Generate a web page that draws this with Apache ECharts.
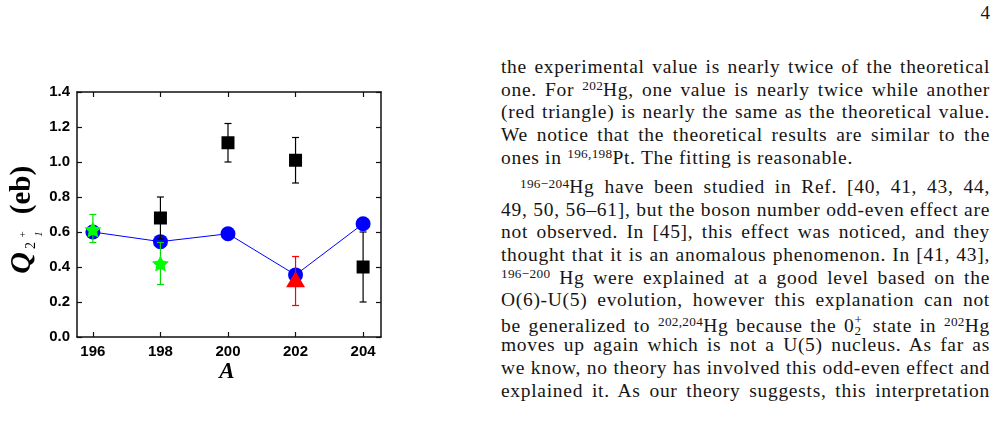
<!DOCTYPE html>
<html>
<head>
<meta charset="utf-8">
<script src="https://cdn.jsdelivr.net/npm/echarts@6/dist/echarts.min.js"></script>
<style>
  html, body { margin: 0; padding: 0; background: #fff; }
  #page { position: relative; width: 998px; height: 422px; overflow: hidden; }
  #chart { position: absolute; left: 0; top: 0; width: 480px; height: 422px; }
  .ln { position: absolute; left: 501px; width: 489px; font-family: "Liberation Serif", serif; font-size: 19.5px;
        letter-spacing: 0.7px; line-height: 22.6px; color: #151515; text-align: justify; text-align-last: justify; white-space: normal; }
  .ln.last { text-align-last: left; }
  .ln.ind { text-indent: 19px; }
  .sp { position: relative; top: -0.42em; font-size: 0.68em; line-height: 0; letter-spacing: 0.3px; }
  .stack { display: inline-block; position: relative; width: 0.55em; height: 1em; }
  .stack i { position: absolute; left: 0; font-style: normal; font-size: 13px; line-height: 1; }
  .stack .u { top: 1px; }
  .stack .d { top: 12px; }
  #pnum { position: absolute; right: 8px; top: 2px; font-family: "Liberation Serif", serif; font-size: 19px; line-height: 22px; color: #151515; }
</style>
</head>
<body>
<div id="page">
  <div id="chart"></div>
  <div id="pnum">4</div>
  <div id="text"></div>
</div>
<script>
// ---- data ----
const xTicks = [196, 198, 200, 202, 204];
const theoryA = [196, 198, 200, 202, 204];
const theoryQ = [0.60, 0.545, 0.59, 0.355, 0.647];
const expA  = [198, 200, 202, 204];
const expQ  = [0.68, 1.11, 1.01, 0.40];
const expLo = [0.56, 1.00, 0.88, 0.20];
const expHi = [0.80, 1.22, 1.14, 0.60];
const greenA  = [196, 198];
const greenQ  = [0.615, 0.42];
const greenLo = [0.54, 0.30];
const greenHi = [0.70, 0.54];
const redA  = [202];
const redQ  = [0.33];
const redLo = [0.18];
const redHi = [0.46];

// ---- text lines on the right ----
const textLines = [
  ['the experimental value is nearly twice of the theoretical', ''],
  ['one. For <span class="sp">202</span>Hg, one value is nearly twice while another', ''],
  ['(red triangle) is nearly the same as the theoretical value.', ''],
  ['We notice that the theoretical results are similar to the', ''],
  ['ones in <span class="sp">196,198</span>Pt. The fitting is reasonable.', 'last'],
  ['<span class="sp">196\u2212204</span>Hg have been studied in Ref. [40, 41, 43, 44,', 'ind'],
  ['49, 50, 56\u201361], but the boson number odd-even effect are', ''],
  ['not observed. In [45], this effect was noticed, and they', ''],
  ['thought that it is an anomalous phenomenon. In [41, 43],', ''],
  ['<span class="sp">196\u2212200</span> Hg were explained at a good level based on the', ''],
  ['O(6)-U(5) evolution, however this explanation can not', ''],
  ['be generalized to <span class="sp">202,204</span>Hg because the 0<span class="stack"><i class="u">+</i><i class="d">2</i></span> state in <span class="sp">202</span>Hg', ''],
  ['moves up again which is not a U(5) nucleus. As far as', ''],
  ['we know, no theory has involved this odd-even effect and', ''],
  ['explained it. As our theory suggests, this interpretation', '']
];
const baselines = [74, 96.6, 119.2, 141.8, 164.4, 194, 216.6, 239.2, 261.8, 284.4, 307, 329.6, 352.2, 374.8, 397.4];
const textBox = document.getElementById('text');
textLines.forEach((l, i) => {
  const d = document.createElement('div');
  d.className = 'ln ' + l[1];
  d.style.top = (baselines[i] - 17.9) + 'px';
  d.innerHTML = l[0];
  textBox.appendChild(d);
  let ls = 0.7;
  while (d.getBoundingClientRect().height > 30 && ls > -1) {
    ls -= 0.05;
    d.style.letterSpacing = ls + 'px';
  }
});

// ---- chart ----
const chart = echarts.init(document.getElementById('chart'), null, { renderer: 'canvas' });
const axisColor = '#111';
const labelFont = { fontFamily: 'Liberation Sans, Arial, sans-serif', fontWeight: 'bold', fontSize: 15, color: '#000' };
const starPath = 'path://M0,-10 L2.94,-4.05 L9.51,-3.09 L4.76,1.55 L5.88,8.09 L0,5 L-5.88,8.09 L-4.76,1.55 L-9.51,-3.09 L-2.94,-4.05 Z';

function errSeries(xs, lo, hi, color, z) {
  return {
    type: 'custom',
    z: z,
    data: xs.map((x, i) => [x, lo[i], hi[i]]),
    encode: { x: 0, y: [1, 2] },
    renderItem: function (params, api) {
      const p1 = api.coord([api.value(0), api.value(1)]);
      const p2 = api.coord([api.value(0), api.value(2)]);
      const hw = 3.5;
      const st = { stroke: color, lineWidth: 1.2 };
      return {
        type: 'group',
        children: [
          { type: 'line', shape: { x1: p1[0], y1: p1[1], x2: p2[0], y2: p2[1] }, style: st },
          { type: 'line', shape: { x1: p1[0] - hw, y1: p1[1], x2: p1[0] + hw, y2: p1[1] }, style: st },
          { type: 'line', shape: { x1: p2[0] - hw, y1: p2[1], x2: p2[0] + hw, y2: p2[1] }, style: st }
        ]
      };
    },
    silent: true
  };
}

const xBase = {
  type: 'value', min: 195.53, max: 204.53,
  axisLine: { show: true, onZero: false, lineStyle: { color: axisColor, width: 1.5 } },
  axisTick: { show: true, inside: true, length: 5, customValues: xTicks, lineStyle: { color: axisColor, width: 1.2 } },
  minorTick: { show: false },
  splitLine: { show: false }
};
const yBase = {
  type: 'value', min: 0, max: 1.4, interval: 0.2,
  axisLine: { show: true, onZero: false, lineStyle: { color: axisColor, width: 1.5 } },
  axisTick: { show: true, inside: true, length: 5, lineStyle: { color: axisColor, width: 1.2 } },
  splitLine: { show: false }
};

// rotated title pieces: sy = screen y of glyph centre, sx = screen x of text middle
function t(txt, sy, sx, font) {
  return { type: 'text', x: -sy, y: sx,
    style: { text: txt, font: font, fill: '#000', align: 'center', textAlign: 'center', verticalAlign: 'middle', textVerticalAlign: 'middle' } };
}

chart.setOption({
  animation: false,
  backgroundColor: '#fff',
  grid: { left: 77, top: 92, right: 99, bottom: 85, containLabel: false },
  xAxis: [
    Object.assign({}, xBase, { position: 'bottom',
      axisLabel: Object.assign({ show: true, margin: 7, customValues: xTicks, formatter: v => String(v) }, labelFont) }),
    Object.assign({}, xBase, { position: 'top', axisLabel: { show: false } })
  ],
  yAxis: [
    Object.assign({}, yBase, { position: 'left',
      axisLabel: Object.assign({ show: true, margin: 7, formatter: v => v.toFixed(1) }, labelFont) }),
    Object.assign({}, yBase, { position: 'right', axisLabel: { show: false } })
  ],
  series: [
    {
      type: 'line', z: 2,
      data: theoryA.map((a, i) => [a, theoryQ[i]]),
      symbol: 'circle', symbolSize: 15,
      lineStyle: { color: '#0000ff', width: 1 },
      itemStyle: { color: '#0000ff', opacity: 1 }
    },
    errSeries(expA, expLo, expHi, '#000', 3),
    {
      type: 'scatter', z: 4,
      data: expA.map((a, i) => [a, expQ[i]]),
      symbol: 'rect', symbolSize: 13,
      itemStyle: { color: '#000', opacity: 1 }
    },
    errSeries(greenA, greenLo, greenHi, '#00dd00', 5),
    {
      type: 'scatter', z: 6,
      data: greenA.map((a, i) => [a, greenQ[i]]),
      symbol: starPath, symbolSize: [17, 16],
      itemStyle: { color: '#00ff00', opacity: 1 }
    },
    errSeries(redA, redLo, redHi, '#ff0000', 7),
    {
      type: 'scatter', z: 8,
      data: redA.map((a, i) => [a, redQ[i]]),
      symbol: 'triangle', symbolSize: [19, 16],
      itemStyle: { color: '#ff0000', opacity: 1 }
    }
  ],
  graphic: [
    {
      type: 'text', x: 227, y: 372,
      style: { text: 'A', font: 'italic bold 23px "Liberation Serif", serif', fill: '#000', align: 'center', textAlign: 'center', verticalAlign: 'middle', textVerticalAlign: 'middle' }
    },
    {
      type: 'group', x: 0, y: 0, rotation: Math.PI / 2,
      children: [
        t('Q', 263, 21.8, 'italic bold 30px "Liberation Serif", serif'),
        t('2', 245.5, 31.5, '14px "Liberation Serif", serif'),
        t('+', 234.5, 23.5, '11px "Liberation Serif", serif'),
        t('1', 234, 39.5, 'italic 11px "Liberation Serif", serif'),
        t('(eb)', 190, 22.5, 'bold 29px "Liberation Serif", serif')
      ]
    }
  ]
});
</script>
</body>
</html>
